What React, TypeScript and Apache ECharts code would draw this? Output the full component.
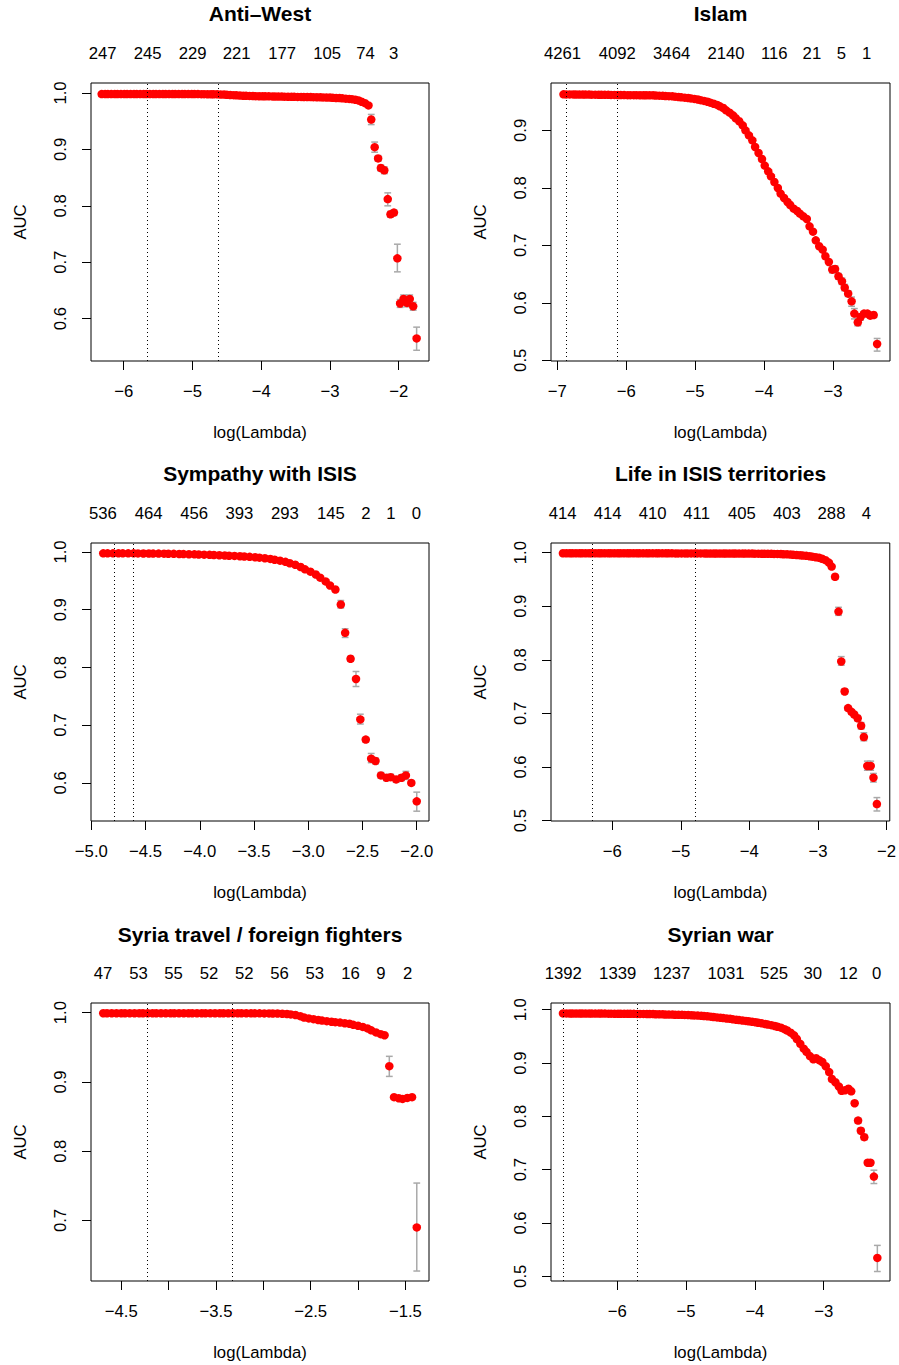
import { useEffect, useRef } from "react";
import * as echarts from "echarts";

// ---------------- DATA ----------------
// Anti-West
const antiWestLogLambda = [
  -6.32, -6.27, -6.23, -6.18, -6.13, -6.09, -6.04, -5.99, -5.95, -5.9,
  -5.85, -5.81, -5.76, -5.71, -5.67, -5.62, -5.57, -5.53, -5.48, -5.43,
  -5.39, -5.34, -5.29, -5.25, -5.2, -5.15, -5.11, -5.06, -5.01, -4.97,
  -4.92, -4.87, -4.83, -4.78, -4.73, -4.69, -4.64, -4.59, -4.54, -4.5,
  -4.45, -4.4, -4.36, -4.31, -4.26, -4.22, -4.17, -4.12, -4.08, -4.03,
  -3.98, -3.94, -3.89, -3.84, -3.8, -3.75, -3.7, -3.66, -3.61, -3.56,
  -3.52, -3.47, -3.42, -3.38, -3.33, -3.28, -3.24, -3.19, -3.14, -3.1,
  -3.05, -3.0, -2.96, -2.91, -2.86, -2.82, -2.77, -2.72, -2.68, -2.63,
  -2.58, -2.54, -2.49, -2.44, -2.4, -2.35, -2.3, -2.26, -2.21, -2.16,
  -2.12, -2.07, -2.02, -1.98, -1.93, -1.88, -1.84, -1.79, -1.74,
];
const antiWestAUC = [
  0.998, 0.998, 0.998, 0.998, 0.998, 0.998, 0.998, 0.998, 0.998, 0.998,
  0.998, 0.998, 0.998, 0.998, 0.998, 0.998, 0.998, 0.998, 0.998, 0.998,
  0.998, 0.998, 0.998, 0.998, 0.998, 0.998, 0.998, 0.998, 0.998, 0.998,
  0.998, 0.9979, 0.9979, 0.9978, 0.9978, 0.9977, 0.9976, 0.9974, 0.9971, 0.9968,
  0.9965, 0.9961, 0.9958, 0.9955, 0.9952, 0.995, 0.9948, 0.9946, 0.9944, 0.9943,
  0.9942, 0.9941, 0.994, 0.9939, 0.9938, 0.9937, 0.9936, 0.9935, 0.9934, 0.9933,
  0.9932, 0.9931, 0.993, 0.9929, 0.9928, 0.9927, 0.9926, 0.9924, 0.9923, 0.9921,
  0.992, 0.9918, 0.9915, 0.9912, 0.9909, 0.9905, 0.99, 0.9895, 0.989, 0.988,
  0.9865, 0.9845, 0.982, 0.978, 0.953, 0.904, 0.884, 0.867, 0.863, 0.812,
  0.785, 0.788, 0.707, 0.627, 0.635, 0.628, 0.635, 0.622, 0.565,
];
const antiWestBarLogLambda = [-2.4, -2.35, -2.3, -2.26, -2.21, -2.16, -2.12, -2.07, -2.02, -1.98, -1.93, -1.88, -1.84, -1.79, -1.74];
const antiWestBarLow = [0.944, 0.895, 0.879, 0.862, 0.857, 0.8, 0.78, 0.783, 0.683, 0.62, 0.628, 0.621, 0.628, 0.615, 0.544];
const antiWestBarHigh = [0.962, 0.913, 0.889, 0.872, 0.869, 0.823, 0.79, 0.793, 0.732, 0.634, 0.642, 0.635, 0.642, 0.629, 0.585];
const antiWestDfAt = [-6.305, -5.651, -4.997, -4.358, -3.696, -3.042, -2.484, -2.073];
const antiWestDf = ["247", "245", "229", "221", "177", "105", "74", "3"];
const antiWestCuts = [-5.647, -4.62];

// Islam
const islamLogLambda = [
  -6.91, -6.87, -6.82, -6.77, -6.73, -6.68, -6.63, -6.59, -6.54, -6.5,
  -6.45, -6.4, -6.36, -6.31, -6.26, -6.22, -6.17, -6.12, -6.08, -6.03,
  -5.98, -5.94, -5.89, -5.85, -5.8, -5.75, -5.71, -5.66, -5.61, -5.57,
  -5.52, -5.47, -5.43, -5.38, -5.33, -5.29, -5.24, -5.2, -5.15, -5.1,
  -5.06, -5.01, -4.96, -4.92, -4.87, -4.82, -4.78, -4.73, -4.68, -4.64,
  -4.59, -4.55, -4.5, -4.45, -4.41, -4.36, -4.31, -4.27, -4.22, -4.17,
  -4.13, -4.08, -4.03, -3.99, -3.94, -3.9, -3.85, -3.8, -3.76, -3.71,
  -3.66, -3.62, -3.57, -3.52, -3.48, -3.43, -3.38, -3.34, -3.29, -3.25,
  -3.2, -3.15, -3.11, -3.06, -3.01, -2.97, -2.92, -2.87, -2.83, -2.78,
  -2.73, -2.69, -2.64, -2.6, -2.55, -2.5, -2.46, -2.41, -2.36,
];
const islamAUC = [
  0.9626, 0.9625, 0.9625, 0.9624, 0.9623, 0.9623, 0.9622, 0.9621, 0.9621, 0.962,
  0.962, 0.9619, 0.9618, 0.9618, 0.9617, 0.9616, 0.9616, 0.9615, 0.9614, 0.9613,
  0.9612, 0.9612, 0.9611, 0.9611, 0.961, 0.961, 0.9609, 0.9609, 0.9608, 0.9606,
  0.9603, 0.96, 0.9597, 0.9594, 0.9591, 0.9586, 0.958, 0.9574, 0.9568, 0.9562,
  0.9555, 0.9546, 0.9536, 0.9524, 0.9511, 0.9497, 0.9481, 0.9463, 0.9442, 0.9417,
  0.9388, 0.9348, 0.9307, 0.926, 0.9209, 0.9157, 0.9087, 0.9, 0.8913, 0.8826,
  0.871, 0.8606, 0.8501, 0.8386, 0.8287, 0.82, 0.8101, 0.7997, 0.7899, 0.7823,
  0.7754, 0.7701, 0.7638, 0.7597, 0.7551, 0.7504, 0.7458, 0.733, 0.7238, 0.7087,
  0.6983, 0.6925, 0.6809, 0.671, 0.6577, 0.6588, 0.6461, 0.6374, 0.6264, 0.6159,
  0.6026, 0.5812, 0.5661, 0.5754, 0.5812, 0.5812, 0.5777, 0.5788, 0.5284,
];
const islamBarLogLambda = [-3.01, -2.97, -2.92, -2.87, -2.83, -2.78, -2.73, -2.69, -2.64, -2.6, -2.55, -2.5, -2.46, -2.41, -2.36];
const islamBarLow = [0.652, 0.654, 0.641, 0.632, 0.621, 0.611, 0.594, 0.572, 0.56, 0.57, 0.577, 0.577, 0.574, 0.575, 0.516];
const islamBarHigh = [0.663, 0.664, 0.651, 0.643, 0.632, 0.621, 0.61, 0.59, 0.573, 0.581, 0.585, 0.585, 0.582, 0.583, 0.538];
const islamDfAt = [-6.923, -6.13, -5.341, -4.553, -3.852, -3.306, -2.88, -2.513];
const islamDf = ["4261", "4092", "3464", "2140", "116", "21", "5", "1"];
const islamCuts = [-6.865, -6.125];

// Sympathy with ISIS
const sympathyLogLambda = [
  -4.89, -4.85, -4.8, -4.75, -4.71, -4.66, -4.61, -4.57, -4.52, -4.47,
  -4.43, -4.38, -4.33, -4.29, -4.24, -4.19, -4.15, -4.1, -4.05, -4.01,
  -3.96, -3.91, -3.87, -3.82, -3.77, -3.73, -3.68, -3.63, -3.59, -3.54,
  -3.49, -3.45, -3.4, -3.35, -3.31, -3.26, -3.21, -3.17, -3.12, -3.07,
  -3.03, -2.98, -2.93, -2.89, -2.84, -2.8, -2.75, -2.7, -2.66, -2.61,
  -2.56, -2.52, -2.47, -2.42, -2.38, -2.33, -2.28, -2.24, -2.19, -2.14,
  -2.1, -2.05, -2.0,
];
const sympathyAUC = [
  0.9977, 0.9977, 0.9977, 0.9977, 0.9977, 0.9977, 0.9977, 0.9976, 0.9975, 0.9974,
  0.9973, 0.9972, 0.9971, 0.997, 0.9968, 0.9966, 0.9964, 0.9962, 0.996, 0.9957,
  0.9954, 0.9951, 0.9948, 0.9944, 0.994, 0.9936, 0.9932, 0.9927, 0.9922, 0.9916,
  0.991, 0.9902, 0.9892, 0.988, 0.9866, 0.985, 0.983, 0.9805, 0.978, 0.974,
  0.97, 0.966, 0.961, 0.9555, 0.949, 0.942, 0.935, 0.909, 0.86, 0.815,
  0.78, 0.71, 0.675, 0.642, 0.638, 0.613, 0.609, 0.61, 0.606, 0.609,
  0.613, 0.6, 0.568,
];
const sympathyBarLogLambda = [-2.7, -2.66, -2.61, -2.56, -2.52, -2.47, -2.42, -2.38, -2.33, -2.28, -2.24, -2.19, -2.14, -2.1, -2.05, -2.0];
const sympathyBarLow = [0.903, 0.852, 0.811, 0.767, 0.702, 0.671, 0.635, 0.633, 0.608, 0.604, 0.605, 0.601, 0.604, 0.606, 0.596, 0.551];
const sympathyBarHigh = [0.916, 0.867, 0.819, 0.793, 0.719, 0.679, 0.651, 0.643, 0.618, 0.614, 0.615, 0.611, 0.614, 0.62, 0.604, 0.584];
const sympathyDfAt = [-4.893, -4.472, -4.052, -3.635, -3.215, -2.791, -2.469, -2.239, -2.003];
const sympathyDf = ["536", "464", "456", "393", "293", "145", "2", "1", "0"];
const sympathyCuts = [-4.791, -4.607];

// Life in ISIS territories
const lifeLogLambda = [
  -6.72, -6.67, -6.62, -6.58, -6.53, -6.48, -6.44, -6.39, -6.34, -6.3,
  -6.25, -6.2, -6.16, -6.11, -6.06, -6.02, -5.97, -5.92, -5.88, -5.83,
  -5.78, -5.74, -5.69, -5.64, -5.6, -5.55, -5.5, -5.46, -5.41, -5.36,
  -5.32, -5.27, -5.22, -5.18, -5.13, -5.08, -5.04, -4.99, -4.94, -4.9,
  -4.85, -4.8, -4.76, -4.71, -4.66, -4.62, -4.57, -4.52, -4.48, -4.43,
  -4.38, -4.34, -4.29, -4.24, -4.2, -4.15, -4.1, -4.06, -4.01, -3.96,
  -3.92, -3.87, -3.82, -3.78, -3.73, -3.68, -3.64, -3.59, -3.54, -3.5,
  -3.45, -3.4, -3.36, -3.31, -3.26, -3.22, -3.17, -3.12, -3.08, -3.03,
  -2.98, -2.94, -2.89, -2.84, -2.8, -2.75, -2.7, -2.66, -2.61, -2.56,
  -2.51, -2.47, -2.42, -2.37, -2.33, -2.28, -2.23, -2.19, -2.14,
];
const lifeAUC = [
  0.9988, 0.9988, 0.9988, 0.9988, 0.9988, 0.9988, 0.9988, 0.9988, 0.9988, 0.9988,
  0.9988, 0.9988, 0.9988, 0.9988, 0.9988, 0.9988, 0.9988, 0.9988, 0.9988, 0.9988,
  0.9988, 0.9988, 0.9988, 0.9988, 0.9987, 0.9987, 0.9987, 0.9987, 0.9987, 0.9987,
  0.9987, 0.9987, 0.9987, 0.9987, 0.9987, 0.9986, 0.9986, 0.9986, 0.9986, 0.9986,
  0.9986, 0.9986, 0.9986, 0.9986, 0.9986, 0.9985, 0.9985, 0.9985, 0.9985, 0.9985,
  0.9985, 0.9985, 0.9984, 0.9984, 0.9984, 0.9983, 0.9983, 0.9983, 0.9982, 0.9982,
  0.9981, 0.9981, 0.998, 0.998, 0.9979, 0.9978, 0.9977, 0.9976, 0.9974, 0.9971,
  0.9968, 0.9965, 0.9961, 0.9956, 0.9951, 0.9946, 0.994, 0.9933, 0.9925, 0.9915,
  0.9903, 0.9886, 0.986, 0.9815, 0.974, 0.955, 0.89, 0.797, 0.741, 0.71,
  0.703, 0.698, 0.691, 0.677, 0.656, 0.602, 0.602, 0.58, 0.531,
];
const lifeBarLogLambda = [-2.75, -2.7, -2.66, -2.61, -2.56, -2.51, -2.47, -2.42, -2.37, -2.33, -2.28, -2.23, -2.19, -2.14];
const lifeBarLow = [0.951, 0.883, 0.79, 0.736, 0.706, 0.699, 0.694, 0.686, 0.671, 0.649, 0.594, 0.594, 0.572, 0.518];
const lifeBarHigh = [0.959, 0.898, 0.806, 0.746, 0.714, 0.707, 0.702, 0.696, 0.683, 0.664, 0.611, 0.611, 0.588, 0.543];
const lifeDfAt = [-6.724, -6.068, -5.412, -4.77, -4.109, -3.453, -2.802, -2.292];
const lifeDf = ["414", "414", "410", "411", "405", "403", "288", "4"];
const lifeCuts = [-6.292, -4.795];

// Syria travel / foreign fighters
const travelLogLambda = [
  -4.69, -4.65, -4.6, -4.55, -4.5, -4.46, -4.41, -4.36, -4.31, -4.27,
  -4.22, -4.17, -4.13, -4.08, -4.03, -3.98, -3.94, -3.89, -3.84, -3.79,
  -3.75, -3.7, -3.65, -3.61, -3.56, -3.51, -3.46, -3.42, -3.37, -3.32,
  -3.27, -3.23, -3.18, -3.13, -3.09, -3.04, -2.99, -2.94, -2.9, -2.85,
  -2.8, -2.75, -2.71, -2.66, -2.61, -2.57, -2.52, -2.47, -2.42, -2.38,
  -2.33, -2.28, -2.24, -2.19, -2.14, -2.09, -2.05, -2.0, -1.95, -1.9,
  -1.86, -1.81, -1.76, -1.72, -1.67, -1.62, -1.57, -1.53, -1.48, -1.43,
  -1.38,
];
const travelAUC = [
  0.9992, 0.9992, 0.9992, 0.9992, 0.9992, 0.9992, 0.9992, 0.9992, 0.9992, 0.9992,
  0.9992, 0.9992, 0.9992, 0.9992, 0.9992, 0.9992, 0.9992, 0.9992, 0.9992, 0.9992,
  0.9992, 0.9992, 0.9992, 0.9992, 0.9992, 0.9992, 0.9992, 0.9992, 0.9992, 0.9992,
  0.9992, 0.9992, 0.9992, 0.9991, 0.9991, 0.9991, 0.999, 0.999, 0.9989, 0.9988,
  0.9985, 0.9981, 0.9975, 0.9966, 0.995, 0.993, 0.9917, 0.9907, 0.9894, 0.9886,
  0.9878, 0.987, 0.9863, 0.9857, 0.9848, 0.984, 0.9825, 0.9812, 0.9795, 0.9773,
  0.9745, 0.9715, 0.969, 0.9675, 0.9228, 0.878, 0.8765, 0.8755, 0.877, 0.878,
  0.69,
];
const travelBarLogLambda = [-1.67, -1.62, -1.57, -1.53, -1.48, -1.43, -1.38];
const travelBarLow = [0.908, 0.876, 0.8745, 0.8735, 0.875, 0.876, 0.627];
const travelBarHigh = [0.937, 0.88, 0.8785, 0.8775, 0.879, 0.88, 0.754];
const travelDfAt = [-4.693, -4.317, -3.948, -3.573, -3.2, -2.828, -2.456, -2.08, -1.76, -1.476];
const travelDf = ["47", "53", "55", "52", "52", "56", "53", "16", "9", "2"];
const travelCuts = [-4.219, -3.334];

// Syrian war
const warLogLambda = [
  -6.79, -6.74, -6.69, -6.65, -6.6, -6.55, -6.51, -6.46, -6.41, -6.37,
  -6.32, -6.27, -6.23, -6.18, -6.13, -6.09, -6.04, -5.99, -5.95, -5.9,
  -5.85, -5.81, -5.76, -5.71, -5.67, -5.62, -5.57, -5.53, -5.48, -5.44,
  -5.39, -5.34, -5.3, -5.25, -5.2, -5.16, -5.11, -5.06, -5.02, -4.97,
  -4.92, -4.88, -4.83, -4.78, -4.74, -4.69, -4.64, -4.6, -4.55, -4.5,
  -4.46, -4.41, -4.36, -4.32, -4.27, -4.23, -4.18, -4.13, -4.09, -4.04,
  -3.99, -3.95, -3.9, -3.85, -3.81, -3.76, -3.71, -3.67, -3.62, -3.57,
  -3.53, -3.48, -3.43, -3.39, -3.34, -3.29, -3.25, -3.2, -3.15, -3.11,
  -3.06, -3.02, -2.97, -2.92, -2.88, -2.83, -2.78, -2.74, -2.69, -2.64,
  -2.6, -2.55, -2.5, -2.46, -2.41, -2.36, -2.32, -2.27, -2.22,
];
const warAUC = [
  0.9931, 0.9931, 0.993, 0.993, 0.993, 0.9929, 0.9929, 0.9929, 0.9928, 0.9928,
  0.9928, 0.9927, 0.9927, 0.9927, 0.9926, 0.9926, 0.9925, 0.9925, 0.9925, 0.9924,
  0.9924, 0.9923, 0.9923, 0.9922, 0.9922, 0.9921, 0.992, 0.9919, 0.9918, 0.9916,
  0.9915, 0.9913, 0.9911, 0.9909, 0.9908, 0.9906, 0.9905, 0.9904, 0.9902, 0.99,
  0.9897, 0.9893, 0.989, 0.9887, 0.9883, 0.9877, 0.987, 0.9863, 0.9856, 0.985,
  0.9843, 0.9836, 0.9829, 0.982, 0.9812, 0.9805, 0.9797, 0.979, 0.9783, 0.9774,
  0.9765, 0.9756, 0.9745, 0.9733, 0.9721, 0.971, 0.9695, 0.968, 0.9663, 0.9635,
  0.961, 0.957, 0.952, 0.945, 0.936, 0.927, 0.921, 0.913, 0.907, 0.909,
  0.905, 0.902, 0.894, 0.883, 0.87, 0.864, 0.856, 0.848, 0.849, 0.852,
  0.847, 0.8246, 0.792, 0.773, 0.761, 0.713, 0.713, 0.687, 0.5345,
];
const warBarLogLambda = [-2.55, -2.5, -2.46, -2.41, -2.36, -2.32, -2.27, -2.22];
const warBarLow = [0.8206, 0.787, 0.768, 0.756, 0.709, 0.709, 0.674, 0.509];
const warBarHigh = [0.8286, 0.797, 0.778, 0.766, 0.717, 0.717, 0.699, 0.558];
const warDfAt = [-6.785, -5.995, -5.21, -4.42, -3.722, -3.16, -2.641, -2.229];
const warDf = ["1392", "1339", "1237", "1031", "525", "30", "12", "0"];
const warCuts = [-6.78, -5.714];

// tick values
const ticksM6toM2 = [-6, -5, -4, -3, -2];
const ticksM7toM3 = [-7, -6, -5, -4, -3];
const ticksHalfM5toM2 = [-5, -4.5, -4, -3.5, -3, -2.5, -2];
const ticksHalfM45toM15 = [-4.5, -4, -3.5, -3, -2.5, -2, -1.5];
const labelsM45toM15 = [-4.5, -3.5, -2.5, -1.5];
const ticksM6toM3 = [-6, -5, -4, -3];
const aucTicks06to10 = [0.6, 0.7, 0.8, 0.9, 1.0];
const aucTicks05to09 = [0.5, 0.6, 0.7, 0.8, 0.9];
const aucTicks05to10 = [0.5, 0.6, 0.7, 0.8, 0.9, 1.0];
const aucTicks07to10 = [0.7, 0.8, 0.9, 1.0];

// ---------------- LAYOUT ----------------
const FONT = "'Liberation Sans', Arial, Helvetica, sans-serif";
const TICK_FS = 16.7;

const panels = [
  {
    title: "Anti\u2013West", x: antiWestLogLambda, y: antiWestAUC,
    bx: antiWestBarLogLambda, blo: antiWestBarLow, bhi: antiWestBarHigh,
    dfAt: antiWestDfAt, df: antiWestDf, cuts: antiWestCuts,
    xTicks: ticksM6toM2, xLabels: ticksM6toM2, xDec: 0, yTicks: aucTicks06to10,
    left: 91, top: 83, width: 338, height: 278, titleTop: 3,
    xMin: -6.475, xMax: -1.56, yMin: 0.525, yMax: 1.0177,
  },
  {
    title: "Islam", x: islamLogLambda, y: islamAUC,
    bx: islamBarLogLambda, blo: islamBarLow, bhi: islamBarHigh,
    dfAt: islamDfAt, df: islamDf, cuts: islamCuts,
    xTicks: ticksM7toM3, xLabels: ticksM7toM3, xDec: 0, yTicks: aucTicks05to09,
    left: 551, top: 83, width: 339, height: 278, titleTop: 3,
    xMin: -7.091, xMax: -2.173, yMin: 0.4988, yMax: 0.9823,
  },
  {
    title: "Sympathy with ISIS", x: sympathyLogLambda, y: sympathyAUC,
    bx: sympathyBarLogLambda, blo: sympathyBarLow, bhi: sympathyBarHigh,
    dfAt: sympathyDfAt, df: sympathyDf, cuts: sympathyCuts,
    xTicks: ticksHalfM5toM2, xLabels: ticksHalfM5toM2, xDec: 1, yTicks: aucTicks06to10,
    left: 91, top: 543, width: 338, height: 278, titleTop: 463,
    xMin: -5.003, xMax: -1.887, yMin: 0.534, yMax: 1.0156,
  },
  {
    title: "Life in ISIS territories", x: lifeLogLambda, y: lifeAUC,
    bx: lifeBarLogLambda, blo: lifeBarLow, bhi: lifeBarHigh,
    dfAt: lifeDfAt, df: lifeDf, cuts: lifeCuts,
    xTicks: ticksM6toM2, xLabels: ticksM6toM2, xDec: 0, yTicks: aucTicks05to10,
    left: 551, top: 543, width: 339, height: 278, titleTop: 463,
    xMin: -6.894, xMax: -1.952, yMin: 0.4993, yMax: 1.018,
  },
  {
    title: "Syria travel / foreign fighters", x: travelLogLambda, y: travelAUC,
    bx: travelBarLogLambda, blo: travelBarLow, bhi: travelBarHigh,
    dfAt: travelDfAt, df: travelDf, cuts: travelCuts,
    xTicks: ticksHalfM45toM15, xLabels: labelsM45toM15, xDec: 1, yTicks: aucTicks07to10,
    left: 91, top: 1003, width: 338, height: 278, titleTop: 924,
    xMin: -4.819, xMax: -1.251, yMin: 0.6126, yMax: 1.014,
  },
  {
    title: "Syrian war", x: warLogLambda, y: warAUC,
    bx: warBarLogLambda, blo: warBarLow, bhi: warBarHigh,
    dfAt: warDfAt, df: warDf, cuts: warCuts,
    xTicks: ticksM6toM3, xLabels: ticksM6toM3, xDec: 0, yTicks: aucTicks05to10,
    left: 551, top: 1003, width: 339, height: 278, titleTop: 924,
    xMin: -6.964, xMax: -2.036, yMin: 0.4912, yMax: 1.0126,
  },
];

const fmtNum = (v: number, d: number) => (v < 0 ? "\u2212" : "") + Math.abs(v).toFixed(d);

function buildOption() {
  const grid: any[] = [];
  const xAxis: any[] = [];
  const yAxis: any[] = [];
  const series: any[] = [];
  const title: any[] = [];
  const txt = { color: "#000", fontFamily: FONT, fontSize: TICK_FS };

  panels.forEach((p, k) => {
    grid.push({
      left: p.left, top: p.top, width: p.width, height: p.height,
      show: true, borderColor: "#000", borderWidth: 1, backgroundColor: "transparent",
      containLabel: false,
    });
    title.push({
      text: p.title,
      left: p.left + p.width / 2,
      top: p.titleTop,
      padding: 0,
      textAlign: "center",
      textStyle: { color: "#000", fontFamily: FONT, fontSize: 21, fontWeight: "bold" },
    });
    xAxis.push({
      gridIndex: k, type: "value", position: "bottom", min: p.xMin, max: p.xMax,
      splitLine: { show: false },
      axisLine: { show: false, onZero: false },
      axisTick: { show: true, customValues: p.xTicks, length: 9, lineStyle: { color: "#000", width: 1 } },
      axisLabel: { customValues: p.xLabels, formatter: (v: number) => fmtNum(v, p.xDec), margin: 22, ...txt },
      name: "log(Lambda)", nameLocation: "middle", nameGap: 63, nameTextStyle: { ...txt },
    });
    xAxis.push({
      gridIndex: k, type: "value", position: "top", min: p.xMin, max: p.xMax,
      splitLine: { show: false },
      axisLine: { show: false, onZero: false },
      axisTick: { show: false },
      axisLabel: {
        customValues: p.dfAt,
        formatter: (v: number) => {
          let best = 0;
          p.dfAt.forEach((a, i) => { if (Math.abs(a - v) < Math.abs(p.dfAt[best] - v)) best = i; });
          return p.df[best];
        },
        margin: 21, ...txt,
      },
    });
    yAxis.push({
      gridIndex: k, type: "value", min: p.yMin, max: p.yMax,
      splitLine: { show: false },
      axisLine: { show: false, onZero: false },
      axisTick: { show: true, customValues: p.yTicks, length: 9, lineStyle: { color: "#000", width: 1 } },
      axisLabel: { customValues: p.yTicks, rotate: 90, formatter: (v: number) => v.toFixed(1), margin: 22, ...txt },
      name: "AUC", nameLocation: "middle", nameRotate: 90, nameGap: 62, nameTextStyle: { ...txt },
    });
    series.push({
      type: "custom", xAxisIndex: 2 * k, yAxisIndex: k, silent: true, z: 1,
      data: p.bx.map((v, i) => [v, p.blo[i], p.bhi[i]]),
      encode: { x: 0, y: [1, 2] },
      renderItem: (_params: any, api: any) => {
        const xv = api.value(0);
        const top = api.coord([xv, api.value(2)]);
        const bot = api.coord([xv, api.value(1)]);
        const hw = 3.4;
        const style = { stroke: "#A9A9A9", lineWidth: 1.5 };
        return {
          type: "group",
          children: [
            { type: "line", shape: { x1: top[0], y1: top[1], x2: bot[0], y2: bot[1] }, style },
            { type: "line", shape: { x1: top[0] - hw, y1: top[1], x2: top[0] + hw, y2: top[1] }, style },
            { type: "line", shape: { x1: bot[0] - hw, y1: bot[1], x2: bot[0] + hw, y2: bot[1] }, style },
          ],
        };
      },
    });
    series.push({
      type: "scatter", xAxisIndex: 2 * k, yAxisIndex: k, silent: true, z: 2,
      symbol: "circle", symbolSize: 8.5,
      itemStyle: { color: "#FF0000", borderWidth: 0, opacity: 1 },
      data: p.x.map((v, i) => [v, p.y[i]]),
      markLine: {
        silent: true, symbol: ["none", "none"], label: { show: false },
        lineStyle: { color: "#000", type: [1, 3], width: 1, opacity: 1 },
        data: p.cuts.map((c) => ({ xAxis: c })),
      },
    });
  });

  return { animation: false, backgroundColor: "#fff", title, grid, xAxis, yAxis, series };
}

export default function App() {
  const ref = useRef<HTMLDivElement>(null);
  useEffect(() => {
    if (!ref.current) return;
    const chart = echarts.init(ref.current, undefined, { renderer: "svg" });
    chart.setOption(buildOption() as any);
    return () => chart.dispose();
  }, []);
  return (
    <div
      ref={ref}
      style={{ position: "absolute", left: 0, top: 0, width: 899, height: 1365, background: "#fff" }}
    />
  );
}
